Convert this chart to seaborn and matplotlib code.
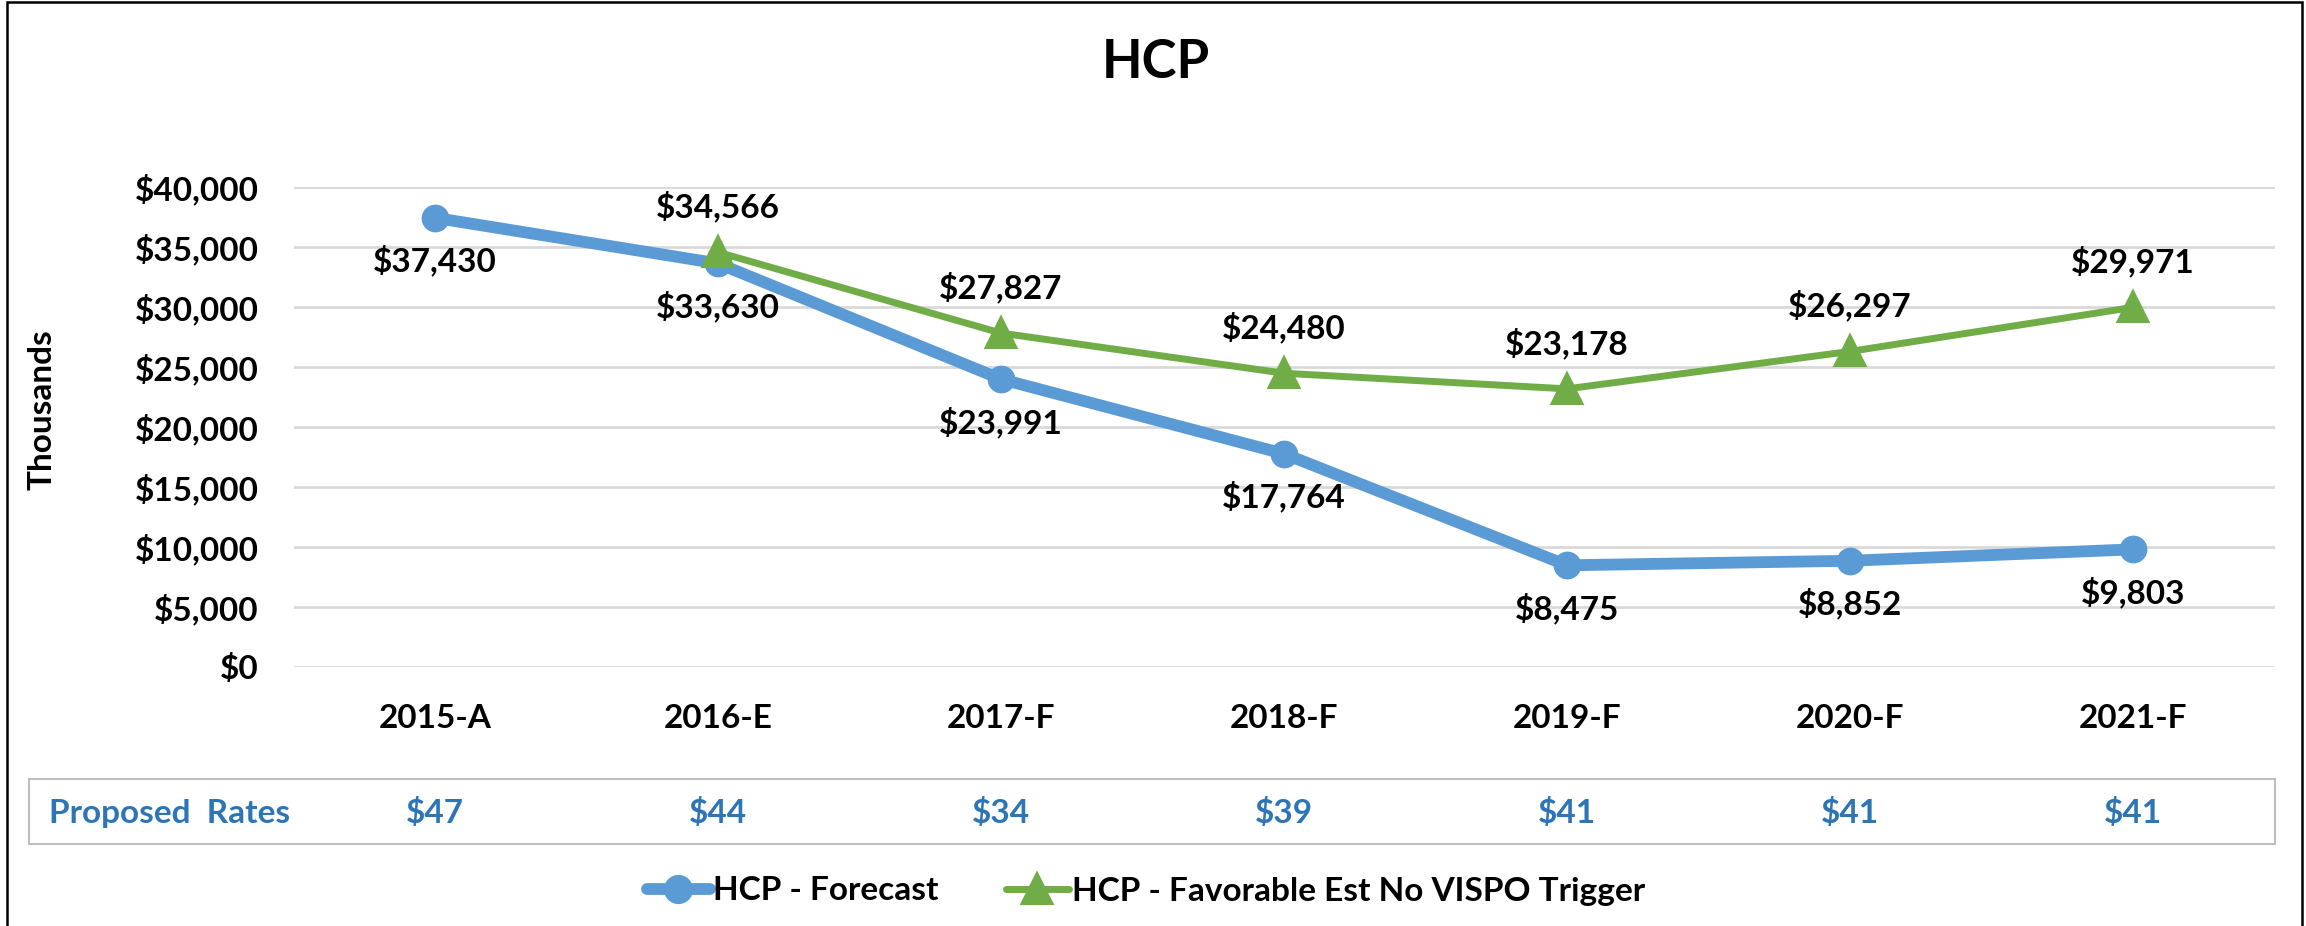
import matplotlib
matplotlib.use("Agg")
import matplotlib.pyplot as plt
import matplotlib.transforms as mtransforms
from matplotlib.patches import Rectangle
from matplotlib.lines import Line2D
import seaborn as sns
import numpy as np

# chart data
categories = ["2015-A", "2016-E", "2017-F", "2018-F", "2019-F", "2020-F", "2021-F"]
forecast = [37430, 33630, 23991, 17764, 8475, 8852, 9803]
favorable = [34566, 27827, 24480, 23178, 26297, 29971]  # starts at 2016-E
proposed_rates = ["$47", "$44", "$34", "$39", "$41", "$41", "$41"]
y_ticks = [0, 5000, 10000, 15000, 20000, 25000, 30000, 35000, 40000]

BLUE = "#5B9BD5"
GREEN = "#70AD47"
RATE_BLUE = "#2E75B6"

sns.set_theme(style="white")
plt.rcParams["font.family"] = ["Lato", "DejaVu Sans"]
plt.rcParams["font.weight"] = "bold"
plt.rcParams["text.color"] = "black"
plt.rcParams["axes.labelcolor"] = "black"
plt.rcParams["xtick.color"] = "black"
plt.rcParams["ytick.color"] = "black"

W, H = 2306, 926
fig = plt.figure(figsize=(W / 100, H / 100), dpi=100)
fig.patch.set_facecolor("white")

# axes placement in pixel terms
left, right, top, bottom = 293.5, 2274.5, 187, 667
ax = fig.add_axes([left / W, 1 - bottom / H, (right - left) / W, (bottom - top) / H])

x_pos = np.arange(len(categories))

sns.lineplot(x=x_pos, y=forecast, ax=ax, color=BLUE, linewidth=8.5, marker="o",
             markersize=20, markeredgecolor=BLUE, markeredgewidth=0,
             solid_capstyle="round", solid_joinstyle="round", zorder=3)
sns.lineplot(x=x_pos[1:], y=favorable, ax=ax, color=GREEN, linewidth=5, marker="^",
             markersize=20, markeredgecolor=GREEN, markeredgewidth=3,
             solid_capstyle="round", solid_joinstyle="round", zorder=4)

# data labels: forecast below, favorable above
for x, v in zip(x_pos, forecast):
    ax.annotate(f"${v:,}", (x, v), xytext=(0, -31), textcoords="offset points",
                ha="center", va="center", fontsize=24, fontweight="bold", color="black")
for x, v in zip(x_pos[1:], favorable):
    ax.annotate(f"${v:,}", (x, v), xytext=(0, 33), textcoords="offset points",
                ha="center", va="center", fontsize=24, fontweight="bold", color="black")

ax.set_xlim(-0.5, len(categories) - 0.5)
ax.set_ylim(0, 40000)
ax.set_yticks(y_ticks)
ax.set_yticklabels([f"${t:,}" for t in y_ticks])
ax.set_xticks(x_pos)
ax.set_xticklabels(categories)
ax.tick_params(axis="y", labelsize=24, pad=25, length=0, colors="black")
ax.tick_params(axis="x", labelsize=24, pad=27, length=0, colors="black")
for lbl in ax.get_xticklabels() + ax.get_yticklabels():
    lbl.set_fontweight("bold")
ax.grid(axis="y", color="#D9D9D9", linewidth=2)
ax.grid(axis="x", visible=False)
sns.despine(ax=ax, left=True, bottom=True)
ax.set_ylabel("Thousands", fontsize=24, fontweight="bold", color="black", labelpad=0)
ax.yaxis.set_label_coords(57 / W, 1 - 410 / H, transform=fig.transFigure)
ax.set_xlabel("")

fig.text(1156 / W, 1 - 62 / H, "HCP", ha="center", va="center",
         fontsize=38, fontweight="bold", color="black")

# proposed rates row
fig.patches.append(Rectangle((29 / W, 1 - 844 / H), (2275 - 29) / W, (844 - 779) / H,
                             transform=fig.transFigure, facecolor="white",
                             edgecolor="#BFBFBF", linewidth=1.5, zorder=1))
fig.text(49 / W, 1 - 813 / H, "Proposed  Rates", ha="left", va="center",
         fontsize=24, fontweight="bold", color=RATE_BLUE)
blend = mtransforms.blended_transform_factory(ax.transData, fig.transFigure)
for x, r in zip(x_pos, proposed_rates):
    fig.text(x, 1 - 813 / H, r, transform=blend, ha="center", va="center",
             fontsize=24, fontweight="bold", color=RATE_BLUE)

# legend
handles = [
    Line2D([], [], color=BLUE, linewidth=8.5, marker="o", markersize=20,
           solid_capstyle="round"),
    Line2D([], [], color=GREEN, linewidth=5, marker="^", markersize=20,
           markeredgewidth=3, solid_capstyle="round"),
]
labels = ["HCP - Forecast", "HCP - Favorable Est No VISPO Trigger"]
leg = fig.legend(handles, labels, loc="center", bbox_to_anchor=(1146 / W, 1 - 891 / H),
                 ncol=2, frameon=False, fontsize=24, handlelength=1.9,
                 handletextpad=0.1, columnspacing=2.0)
for t in leg.get_texts():
    t.set_fontweight("bold")
    t.set_color("black")

# outer frame
fig.patches.append(Rectangle((7 / W, -0.01), (2302 - 7) / W, 1.01 - 2 / H,
                             transform=fig.transFigure, facecolor="none",
                             edgecolor="black", linewidth=1.8, zorder=0))

fig.savefig("out.png", dpi=100)
